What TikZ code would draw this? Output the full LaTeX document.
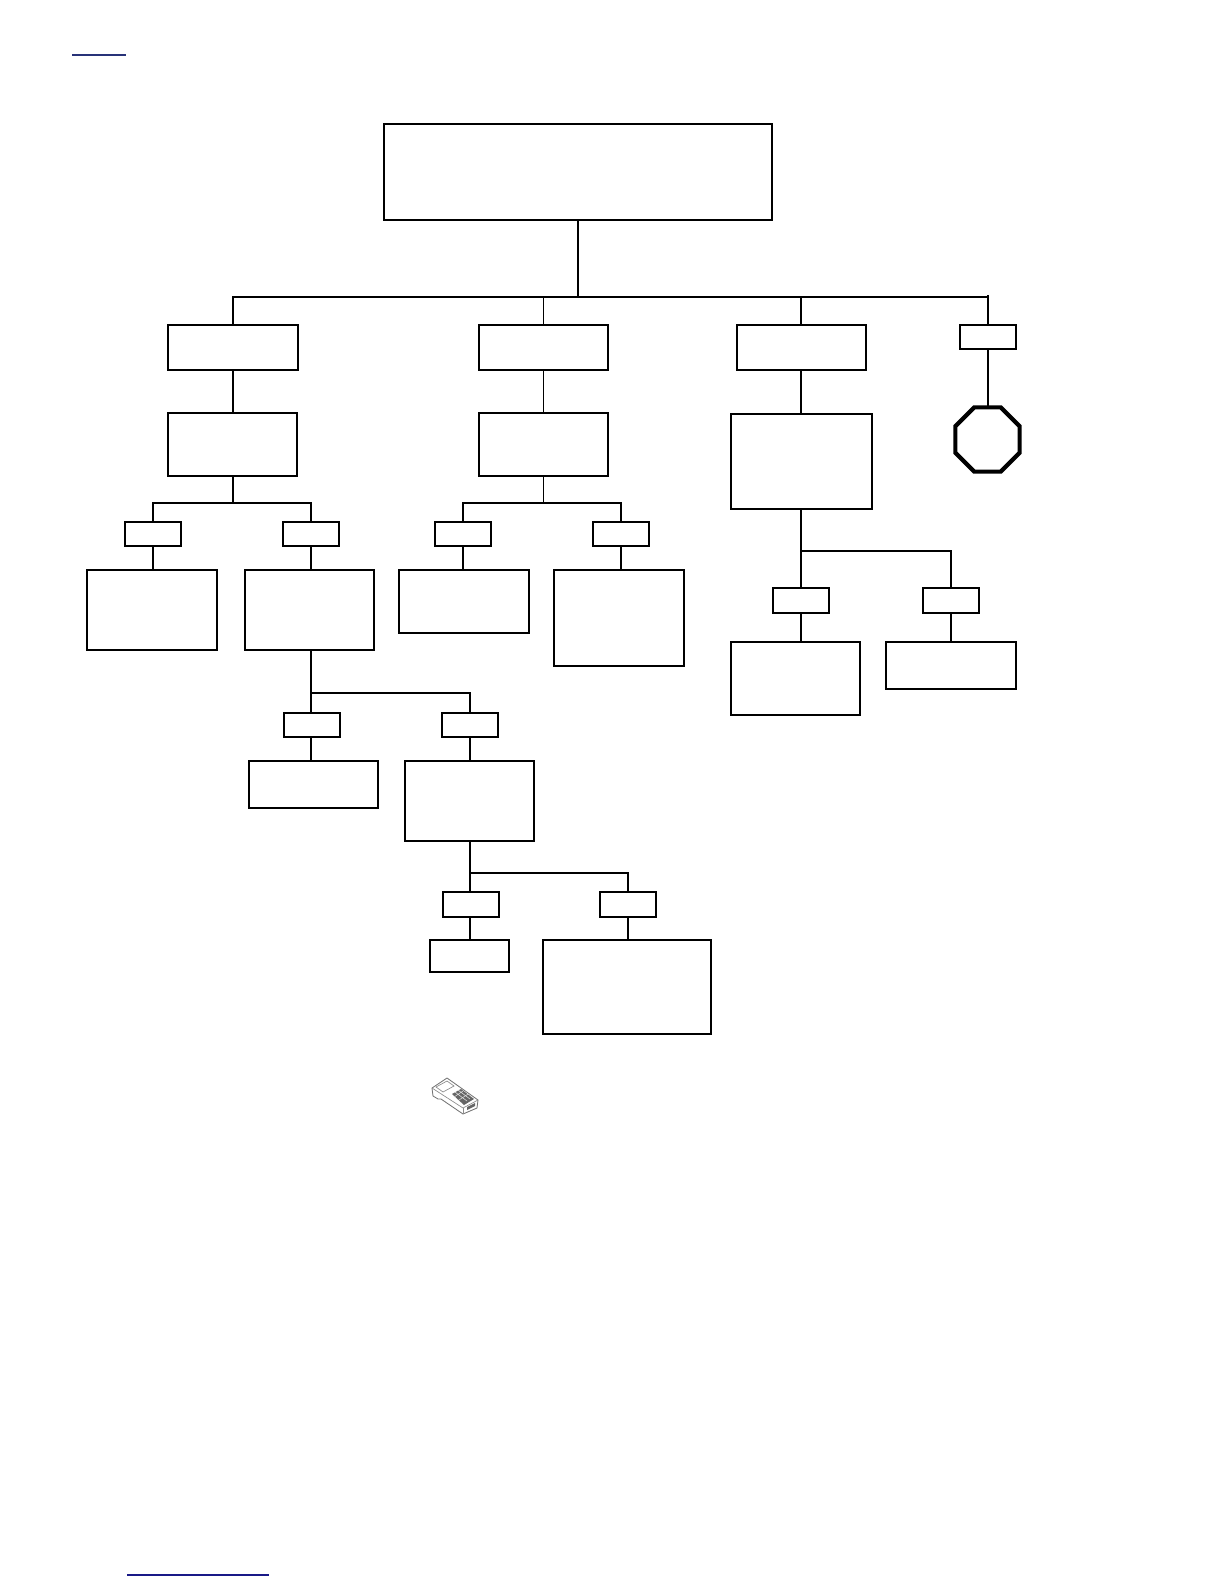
\documentclass[tikz,border=0pt]{standalone}
\usepackage{tikz}
\usetikzlibrary{shapes.geometric, positioning, calc}

\begin{document}
\begin{tikzpicture}[x=0.6pt,y=-0.6pt,
        line/.style={line width=1.2pt},
        thinline/.style={line width=0.7pt},
        box/.style 2 args={draw,line width=1.2pt,inner sep=0pt,outer sep=0pt,
        minimum width=#1*0.6pt,minimum height=#2*0.6pt},
        tag/.style={box={56}{24.5}},
        stopsign/.style={draw,regular polygon,regular polygon sides=8,
        line width=2.5pt,inner sep=0pt,outer sep=0pt,minimum size=69.5*0.6pt},
        link/.style={line width=0.8pt}]
      \useasboundingbox (0,0) rectangle (1224,1584);
      \node[box={388}{96}] (top) at (578,172) {};
      \node[box={130}{45}] (a1) at (233,347.5) {};
      \node[box={129}{63}] (a2) at (232.5,444.5) {};
      \node[box={129}{45}] (b1) at (543.5,347.5) {};
      \node[box={129}{63}] (b2) at (543.5,444.5) {};
      \node[box={129}{45}] (c1) at (801.5,347.5) {};
      \node[box={141}{95}] (c2) at (801.5,461.5) {};
      \node[tag] (d1) at (988,337) {};
      \node[stopsign] (d2) at (987.5,439.5) {};
      \node[tag] (e1) at (153,534) {};
      \node[box={130}{79.5}] (e2) at (152,610) {};
      \node[tag] (f1) at (311,534) {};
      \node[box={129}{79.5}] (f2) at (309.5,610) {};
      \node[tag] (g1) at (463,534) {};
      \node[box={130}{63}] (g2) at (464,601.5) {};
      \node[tag] (h1) at (621,534) {};
      \node[box={130}{96}] (h2) at (619,618) {};
      \node[tag] (i1) at (801,600.5) {};
      \node[box={129}{73}] (i2) at (795.5,678.5) {};
      \node[tag] (j1) at (951,600.5) {};
      \node[box={130}{47}] (j2) at (951,665.5) {};
      \node[tag] (k1) at (312,725) {};
      \node[box={129.5}{47}] (k2) at (313.5,784.5) {};
      \node[tag] (l1) at (470,725) {};
      \node[box={129}{79.5}] (l2) at (469.5,801) {};
      \node[tag] (m1) at (471,904.5) {};
      \node[box={79}{32}] (m2) at (469.5,956) {};
      \node[tag] (n1) at (628,904.5) {};
      \node[box={168}{94}] (n2) at (627,987) {};
      \coordinate (bus0) at (578,297);
      \coordinate (busa) at (233,503);
      \coordinate (busb) at (543.5,503);
      \coordinate (busc) at (801,551);
      \coordinate (busf) at (311,693);
      \coordinate (busl) at (470,872.5);
      \coordinate (buse) at (152.5,503);
      \draw[line] (top) -- (bus0);
      \draw[line] (a1.north) |- (bus0) -| (d1.north);
      \draw[line] (bus0 -| d1) -- ([yshift=1pt]bus0 -| d1);
      \draw[thinline] (bus0 -| b1) -- (b1);
      \draw[line] (bus0 -| busc) -- (busc |- c1.north);
      \draw[line] (a1) -- (a1 |- a2.north);
      \draw[thinline] (b1) -- (b2);
      \draw[line] (busc |- c1.south) -- (busc |- c2.north);
      \draw[line] (d1) -- (d1 |- d2.north);
      \draw[line] (a2.south -| busa) -- (busa);
      \draw[line] (buse |- e1.north) |- (busa) -| (f1.north);
      \draw[thinline] (b2) -- (busb);
      \draw[line] (g1.north) |- (busb) -| (h1.north);
      \draw[line] (c2.south -| busc) -- (i1.north -| busc);
      \draw[line] (busc) -| (j1.north);
      \draw[line] (f2.south -| busf) -- (k1.north -| busf);
      \draw[line] (busf) -| (l1.north);
      \draw[line] (l2.south -| busl) -- (busl) -| (n1.north);
      \draw[line] (busl) -- (m1.north -| busl);
      \draw[line] (buse |- e1.south) -- (buse |- e2.north);
      \draw[line] (f1) -- (f1 |- f2.north);
      \draw[line] (g1) -- (g1 |- g2.north);
      \draw[line] (h1) -- (h1 |- h2.north);
      \draw[line] (i1.south -| busc) -- (busc |- i2.north);
      \draw[line] (j1) -- (j1 |- j2.north);
      \draw[line] (busf |- k1.south) -- (busf |- k2.north);
      \draw[line] (l1) -- (l1 |- l2.north);
      \draw[line] (busl |- m1.south) -- (busl |- m2.north);
      \draw[line] (n1) -- (n1 |- n2.north);
      % plug
      \draw[line width=0.5pt,black!55,fill=white,line join=round]
        (432,1088) -- (447,1078) -- (478,1100) -- (477,1108) -- (463,1114) -- (441,1099) -- (438,1099) -- (433,1096) -- cycle;
      \draw[line width=0.4pt,black!45] (432,1088) -- (463,1108) -- (478,1100);
      \draw[line width=0.4pt,black!45] (463,1108) -- (463,1114);
      \draw[line width=0.4pt,black!45] (436,1087) -- (447,1081) -- (454,1086) -- (443,1092) -- cycle;
      \fill[black!60] (452,1094) -- (461,1089) -- (474,1099) -- (464,1105) -- cycle;
      \draw[line width=0.35pt,black!15] (455,1092) -- (467,1101) (458,1090) -- (470,1099) (454,1097) -- (463,1091) (459,1100) -- (468,1094);
      \fill[black!60] (467,1107) -- (475,1103) -- (475,1106) -- (467,1110) -- cycle;
      % links
      \coordinate (linka) at (72,55);
      \coordinate (linkb) at (126,55);
      \coordinate (linkc) at (127,1575);
      \coordinate (linkd) at (269,1575);
      \draw[link,color={rgb,255:red,40;green,50;blue,120}] (linka) -- (linkb);
      \draw[link,color={rgb,255:red,25;green,25;blue,135}] (linkc) -- (linkd);
    \end{tikzpicture}
\end{document}
